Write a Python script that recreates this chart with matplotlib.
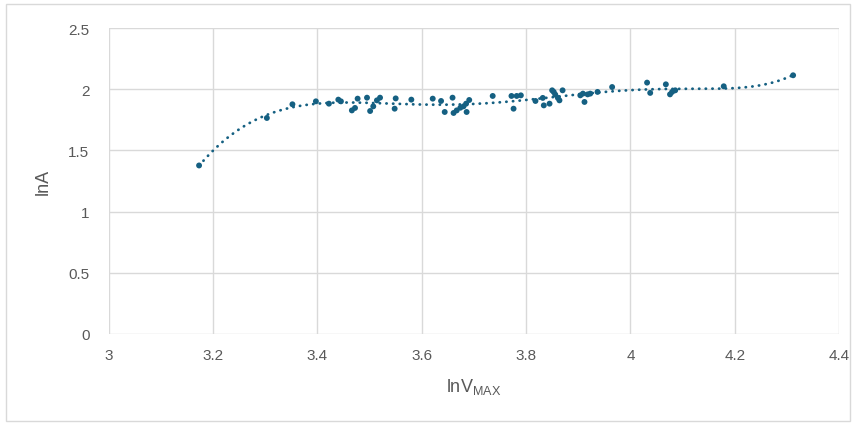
import numpy as np
import matplotlib
matplotlib.use('Agg')
import matplotlib.pyplot as plt
import matplotlib.patches as mpatches

plt.rcParams['font.family'] = ['Liberation Sans', 'DejaVu Sans']

# lnV_MAX vs lnA
ln_vmax = [3.173, 3.303, 3.352, 3.397, 3.422, 3.440, 3.445, 3.466, 3.472, 3.477,
           3.495, 3.501, 3.507, 3.514, 3.520, 3.548, 3.550, 3.580, 3.621, 3.637,
           3.644, 3.659, 3.661, 3.667, 3.674, 3.680, 3.685, 3.686, 3.691, 3.736,
           3.772, 3.776, 3.782, 3.790, 3.818, 3.832, 3.834, 3.845, 3.850, 3.853,
           3.856, 3.861, 3.864, 3.870, 3.904, 3.909, 3.912, 3.918, 3.923, 3.937,
           3.965, 4.032, 4.038, 4.068, 4.076, 4.080, 4.086, 4.179, 4.312]
ln_a = [1.377, 1.765, 1.877, 1.901, 1.882, 1.915, 1.901, 1.827, 1.847, 1.923,
        1.931, 1.822, 1.860, 1.909, 1.931, 1.841, 1.925, 1.915, 1.923, 1.904,
        1.814, 1.931, 1.806, 1.827, 1.849, 1.860, 1.882, 1.814, 1.912, 1.945,
        1.945, 1.841, 1.945, 1.950, 1.904, 1.929, 1.868, 1.882, 1.991, 1.978,
        1.956, 1.929, 1.909, 1.991, 1.950, 1.964, 1.896, 1.958, 1.964, 1.978,
        2.018, 2.054, 1.970, 2.040, 1.958, 1.978, 1.991, 2.024, 2.114]

x_ticks = [3, 3.2, 3.4, 3.6, 3.8, 4, 4.2, 4.4]
x_labels = ['3', '3.2', '3.4', '3.6', '3.8', '4', '4.2', '4.4']
y_ticks = [0, 0.5, 1, 1.5, 2, 2.5]
y_labels = ['0', '0.5', '1', '1.5', '2', '2.5']

color = '#156082'
grid_c = '#D9D9D9'
text_c = '#595959'

fig = plt.figure(figsize=(8.57, 4.27), dpi=100)
ax = fig.add_axes([0.127, 0.2155, 0.852, 0.7165])

# polynomial trendline (Excel style, order 6)
xv = np.array(ln_vmax)
x0 = xv.mean()
coef = np.polyfit(xv - x0, ln_a, 6)
xs = np.linspace(xv.min(), xv.max(), 300)
ax.plot(xs, np.polyval(coef, xs - x0), color=color, lw=2.0,
        linestyle=(0, (0.1, 2.3)), dash_capstyle='round', zorder=3)

ax.scatter(ln_vmax, ln_a, s=18, color=color, edgecolors='none', zorder=4)

ax.set_xlim(3, 4.4)
ax.set_ylim(0, 2.5)
ax.set_xticks(x_ticks)
ax.set_xticklabels(x_labels)
ax.set_yticks(y_ticks)
ax.set_yticklabels(y_labels)
ax.grid(True, color=grid_c, lw=1.0)
ax.set_axisbelow(True)
for s in ax.spines.values():
    s.set_visible(False)
ax.tick_params(length=0, labelsize=11, colors=text_c, pad=10)
ax.tick_params(axis='y', pad=14)

ax.set_ylabel('lnA', fontsize=13, color=text_c, labelpad=12)
ax.set_xlabel(r'lnV$_{\mathregular{MAX}}$', fontsize=13, color=text_c, labelpad=10)

# chart-area border
fig.patches.append(mpatches.Rectangle((6 / 857, 5 / 427), 844 / 857, 417 / 427,
                                      transform=fig.transFigure, fill=False,
                                      edgecolor=grid_c, lw=1.0))

fig.savefig('out.png', dpi=100, facecolor='white')
